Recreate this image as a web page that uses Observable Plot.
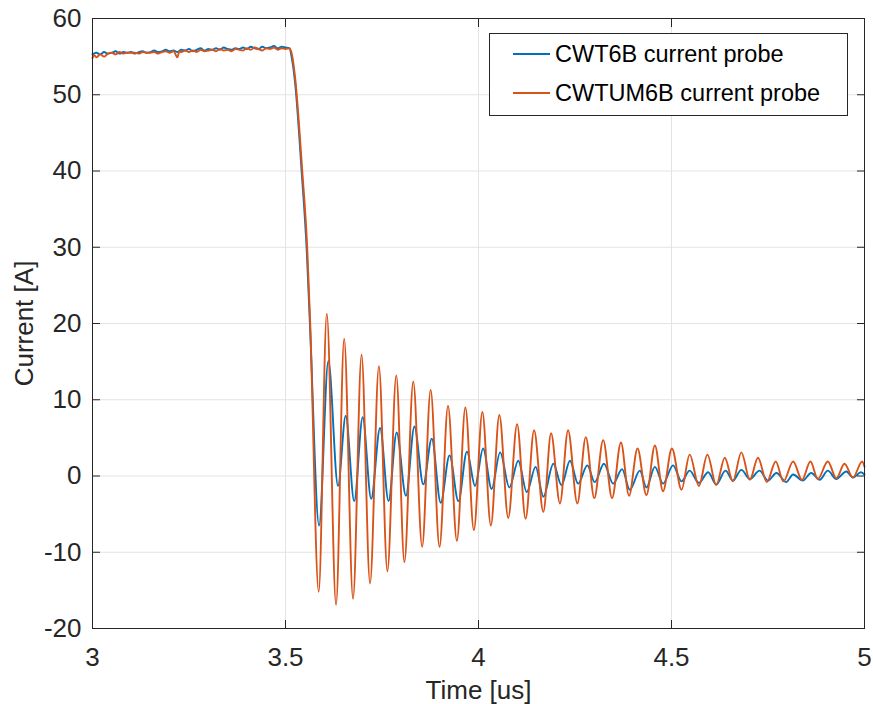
<!DOCTYPE html>
<html>
<head>
<meta charset="utf-8">
<script src="https://cdn.jsdelivr.net/npm/d3@7"></script>
<script src="https://cdn.jsdelivr.net/npm/@observablehq/plot@0.6"></script>
<style>
html, body { margin: 0; padding: 0; background: #fff; }
#wrap { position: relative; width: 873px; height: 704px; font-family: "Liberation Sans", Arial, sans-serif; }
#legend { position: absolute; left: 489px; top: 33px; width: 357px; height: 81px; border: 1px solid #262626; background: #fff; }
.row { position: absolute; left: 0; height: 30px; display: flex; align-items: center; white-space: nowrap; }
.sw { width: 37px; height: 0; border-top: 2px solid; margin-left: 23px; margin-right: 5px; }
.lab { font-size: 23.5px; color: #000; }
</style>
</head>
<body>
<div id="wrap"></div>
<script>
// ---- data ----
const xTicks = [3, 3.5, 4, 4.5, 5];
const yTicks = [-20, -10, 0, 10, 20, 30, 40, 50, 60];
const seriesNames = ["CWT6B current probe", "CWTUM6B current probe"];
const seriesColors = ["#0072BD", "#D95319"];

const blueTime = [
  3.000, 3.010, 3.020, 3.030, 3.040, 3.050, 3.060, 3.070, 3.080, 3.090,
  3.100, 3.110, 3.120, 3.130, 3.140, 3.150, 3.160, 3.170, 3.180, 3.190,
  3.200, 3.210, 3.220, 3.230, 3.240, 3.250, 3.260, 3.270, 3.280, 3.290,
  3.300, 3.310, 3.320, 3.330, 3.340, 3.350, 3.360, 3.370, 3.380, 3.390,
  3.400, 3.410, 3.420, 3.430, 3.440, 3.450, 3.460, 3.470, 3.480, 3.490,
  3.500, 3.510,
  3.517, 3.525, 3.542, 3.555, 3.564,
  3.587, 3.611, 3.636, 3.656, 3.678, 3.700, 3.722, 3.745, 3.767, 3.788,
  3.812, 3.834, 3.857, 3.879, 3.902, 3.925, 3.948, 3.970, 3.991, 4.012,
  4.034, 4.056, 4.080, 4.103, 4.125, 4.148, 4.168, 4.194, 4.215, 4.237,
  4.258, 4.282, 4.301, 4.325, 4.349, 4.372, 4.392, 4.418, 4.435, 4.457,
  4.478, 4.504, 4.526, 4.547, 4.571, 4.595, 4.616, 4.640, 4.659, 4.681,
  4.703, 4.728, 4.750, 4.772, 4.797, 4.815, 4.840, 4.862, 4.884, 4.905,
  4.927, 4.953, 4.970, 4.991, 5.000
];
const blueCurrent = [
  55.3, 55.5, 55.3, 55.6, 55.4, 55.5, 55.7, 55.4, 55.6, 55.5,
  55.6, 55.4, 55.6, 55.7, 55.5, 55.6, 55.8, 55.6, 55.7, 55.9,
  55.7, 55.8, 55.6, 55.9, 55.8, 56.0, 55.7, 55.9, 56.1, 55.8,
  56.0, 55.9, 56.1, 55.9, 56.2, 56.0, 55.9, 56.1, 56.0, 56.2,
  56.0, 56.3, 56.1, 56.0, 56.3, 56.1, 56.2, 56.4, 56.1, 56.3,
  56.2, 56.1,
  54.6, 51.5, 39.8, 29.6, 19.0,
  -6.5, 15.1, -1.3, 7.9, -3.3, 7.7, -3.0, 6.3, -3.3, 5.7,
  -2.6, 6.5, -1.1, 4.9, -3.5, 2.7, -3.3, 3.2, -1.3, 3.6,
  -1.7, 3.1, -1.5, 2.0, -2.1, 1.2, -2.7, 1.6, -1.2, 2.0,
  -1.0, 1.4, -0.8, 1.6, -1.0, 0.9, -1.8, 0.7, -1.5, 1.2,
  -1.0, 1.4, -0.7, 0.7, -0.9, 0.5, -1.1, 0.7, -0.6, 0.8,
  -0.4, 0.7, -0.6, 0.4, -0.8, 0.2, -0.6, 0.4, -0.5, 0.7,
  -0.4, 0.6, -0.2, 0.5, 0.2
];

const orangeTime = [
  3.000, 3.005, 3.010, 3.020, 3.030, 3.040, 3.050, 3.060, 3.070, 3.080,
  3.090, 3.100, 3.110, 3.120, 3.130, 3.140, 3.150, 3.160, 3.170, 3.180,
  3.190, 3.200, 3.210, 3.220, 3.225, 3.230, 3.240, 3.250, 3.260, 3.270,
  3.280, 3.290, 3.300, 3.310, 3.320, 3.330, 3.340, 3.350, 3.360, 3.370,
  3.380, 3.390, 3.400, 3.410, 3.420, 3.430, 3.440, 3.450, 3.460, 3.470,
  3.480, 3.490, 3.500, 3.510,
  3.517, 3.525, 3.543, 3.556, 3.564,
  3.586, 3.607, 3.631, 3.652, 3.675, 3.697, 3.719, 3.742, 3.764, 3.787,
  3.808, 3.831, 3.854, 3.876, 3.899, 3.921, 3.944, 3.966, 3.988, 4.010,
  4.032, 4.054, 4.077, 4.100, 4.122, 4.144, 4.168, 4.188, 4.211, 4.232,
  4.256, 4.278, 4.300, 4.323, 4.346, 4.369, 4.390, 4.412, 4.435, 4.457,
  4.478, 4.501, 4.526, 4.547, 4.571, 4.593, 4.616, 4.638, 4.659, 4.681,
  4.703, 4.724, 4.747, 4.770, 4.790, 4.815, 4.838, 4.860, 4.879, 4.905,
  4.927, 4.948, 4.970, 4.994, 5.000
];
const orangeCurrent = [
  54.8, 55.2, 54.9, 55.3, 55.0, 55.4, 55.5, 55.3, 55.6, 55.4,
  55.5, 55.5, 55.5, 55.4, 55.6, 55.5, 55.5, 55.6, 55.4, 55.6,
  55.7, 55.5, 55.7, 54.9, 55.7, 55.6, 55.8, 55.6, 55.8, 55.6,
  55.9, 55.7, 55.8, 55.9, 55.7, 56.0, 55.8, 55.9, 55.7, 56.0,
  55.9, 55.8, 56.1, 55.9, 56.2, 56.0, 55.8, 56.1, 56.0, 56.2,
  55.9, 56.1, 56.0, 56.1,
  55.2, 52.2, 40.3, 30.2, 20.0,
  -15.2, 21.3, -16.9, 18.0, -16.1, 15.9, -14.1, 14.4, -12.5, 13.2,
  -11.3, 12.4, -9.3, 11.3, -9.3, 9.2, -8.5, 9.0, -7.1, 8.4,
  -6.5, 8.0, -5.5, 6.8, -5.6, 6.0, -4.7, 5.6, -3.6, 6.0,
  -3.6, 5.1, -2.9, 4.7, -2.9, 4.4, -2.6, 3.6, -2.5, 4.0,
  -2.0, 3.6, -1.8, 2.8, -1.3, 2.8, -1.2, 2.4, -0.7, 3.1,
  -0.5, 2.4, -0.8, 1.9, -0.7, 1.9, -0.5, 1.9, -0.4, 1.9,
  -0.3, 1.6, -0.2, 1.9, 1.2
];

// ---- tables for the library ----
const blue = blueTime.map((t, i) => ({t, v: blueCurrent[i]}));
const orange = orangeTime.map((t, i) => ({t, v: orangeCurrent[i]}));

const font = "Liberation Sans, Arial, Helvetica, sans-serif";
const axisColor = "#262626";
const gridColor = "#e3e3e3";
const fmt = d => String(d);

const chart = Plot.plot({
  width: 873,
  height: 704,
  marginLeft: 92,
  marginRight: 9,
  marginTop: 18,
  marginBottom: 76,
  style: {fontFamily: font, background: "#fff", color: axisColor},
  x: {domain: [3, 5], ticks: xTicks},
  y: {domain: [-20, 60], ticks: yTicks},
  marks: [
    Plot.gridX(xTicks, {stroke: gridColor, strokeOpacity: 1}),
    Plot.gridY(yTicks, {stroke: gridColor, strokeOpacity: 1}),
    Plot.line(blue, {x: "t", y: "v", stroke: seriesColors[0], strokeWidth: 1.9, curve: "monotone-x"}),
    Plot.line(orange, {x: "t", y: "v", stroke: seriesColors[1], strokeWidth: 1.9, curve: "monotone-x"}),
    Plot.frame({stroke: axisColor, strokeWidth: 1}),
    // inward ticks on all four sides
    Plot.axisX(xTicks, {anchor: "bottom", tickSize: -8, fill: "none", tickFormat: () => "", label: null}),
    Plot.axisX(xTicks, {anchor: "top", tickSize: -8, fill: "none", tickFormat: () => "", label: null}),
    Plot.axisY(yTicks, {anchor: "left", tickSize: -8, fill: "none", tickFormat: () => "", label: null}),
    Plot.axisY(yTicks, {anchor: "right", tickSize: -8, fill: "none", tickFormat: () => "", label: null}),
    // tick labels
    Plot.axisX(xTicks, {anchor: "bottom", tickSize: 0, tickPadding: 19, fontSize: 26, fill: axisColor, tickFormat: fmt, label: null}),
    Plot.axisY(yTicks, {anchor: "left", tickSize: 0, tickPadding: 11, fontSize: 26, fill: axisColor, tickFormat: fmt, label: null}),
    // axis titles
    Plot.text(["Time [us]"], {frameAnchor: "bottom", dy: 62, fontSize: 26, fill: axisColor, text: d => d, textAnchor: "middle", lineAnchor: "middle"}),
    Plot.text(["Current [A]"], {frameAnchor: "left", dx: -68, rotate: -90, fontSize: 26, fill: axisColor, text: d => d, textAnchor: "middle", lineAnchor: "middle"})
  ]
});

const wrap = document.getElementById("wrap");
wrap.appendChild(chart);

// legend (inside the axes, top right)
const legend = document.createElement("div");
legend.id = "legend";
seriesNames.forEach((name, i) => {
  const row = document.createElement("div");
  row.className = "row";
  row.style.top = (i === 0 ? 5 : 44) + "px";
  const sw = document.createElement("div");
  sw.className = "sw";
  sw.style.borderTopColor = seriesColors[i];
  const lab = document.createElement("span");
  lab.className = "lab";
  lab.textContent = name;
  row.appendChild(sw);
  row.appendChild(lab);
  legend.appendChild(row);
});
wrap.appendChild(legend);
</script>
</body>
</html>
